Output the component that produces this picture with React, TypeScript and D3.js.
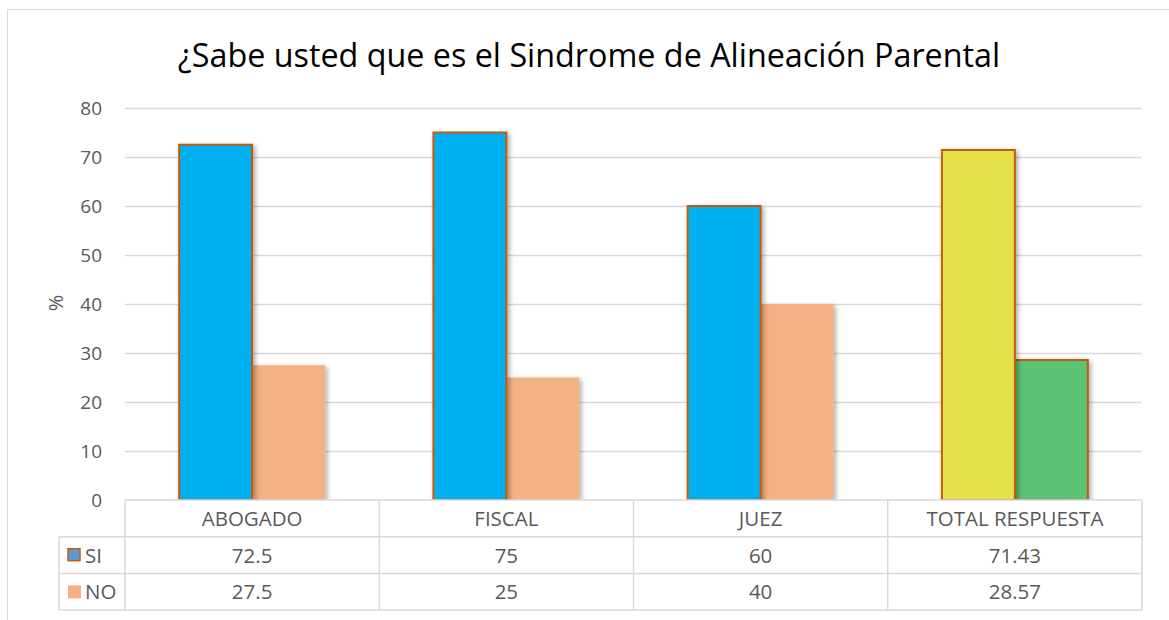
import React, { useEffect, useRef } from "react";
import * as d3 from "d3";

const categories = ["ABOGADO", "FISCAL", "JUEZ", "TOTAL RESPUESTA"];
const siValues = [72.5, 75, 60, 71.43];
const noValues = [27.5, 25, 40, 28.57];
const siLabels = ["72.5", "75", "60", "71.43"];
const noLabels = ["27.5", "25", "40", "28.57"];
const yTicks = [0, 10, 20, 30, 40, 50, 60, 70, 80];

const W = 1169;
const H = 620;
const plotLeft = 125;
const plotRight = 1142;
const plotTop = 108;
const plotBottom = 500;
const rowH = 36.7;
const legendLeft = 59;

const siFill = ["#00B0F0", "#00B0F0", "#00B0F0", "#E5E24A"];
const noFill = ["#F4B183", "#F4B183", "#F4B183", "#5BC274"];
const noStroke = [false, false, false, true];

export default function App() {
  const ref = useRef<SVGSVGElement>(null);

  useEffect(() => {
    const svg = d3.select(ref.current);
    svg.selectAll("*").remove();

    const defs = svg.append("defs");
    const f = defs.append("filter").attr("id", "sh").attr("x", "-30%").attr("y", "-10%").attr("width", "160%").attr("height", "120%");
    f.append("feDropShadow").attr("dx", 2).attr("dy", 2).attr("stdDeviation", 2.5).attr("flood-color", "#000").attr("flood-opacity", 0.35);

    svg.append("rect").attr("x", 0).attr("y", 0).attr("width", W).attr("height", H).attr("fill", "#fff");
    svg.append("path").attr("d", `M7.5,${H} V9.5 H${W}`).attr("fill", "none").attr("stroke", "#D9D9D9").attr("stroke-width", 1);

    const y = d3.scaleLinear().domain([0, 80]).range([plotBottom, plotTop]);
    const x = d3.scaleBand<string>().domain(categories).range([plotLeft, plotRight]).paddingInner(0).paddingOuter(0);
    const bw = x.bandwidth();
    const inner = d3.scaleBand<string>().domain(["SI", "NO"]).range([bw * 0.213, bw * 0.787]).paddingInner(0).paddingOuter(0);

    svg.append("text").attr("x", 589).attr("y", 67).attr("text-anchor", "middle")
      .attr("font-family", "'Open Sans', sans-serif").attr("font-size", 32.3).attr("fill", "#000")
      .text("¿Sabe usted que es el Sindrome de Alineación Parental");

    svg.append("g").selectAll("line").data(yTicks.filter(t => t > 0)).join("line")
      .attr("x1", plotLeft).attr("x2", plotRight)
      .attr("y1", d => Math.round(y(d)) + 0.5).attr("y2", d => Math.round(y(d)) + 0.5)
      .attr("stroke", "#D9D9D9").attr("stroke-width", 1.5);

    svg.append("g").selectAll("text").data(yTicks).join("text")
      .attr("x", 102).attr("y", d => y(d) + 7).attr("text-anchor", "end")
      .attr("font-family", "'Open Sans', sans-serif").attr("font-size", 19).attr("fill", "#595959")
      .text(d => String(d));

    svg.append("text").attr("transform", `translate(63,303) rotate(-90)`).attr("text-anchor", "middle")
      .attr("font-family", "'Open Sans', sans-serif").attr("font-size", 20).attr("fill", "#595959").text("%");

    const g = svg.append("g");
    categories.forEach((c, i) => {
      const x0 = x(c)!;
      const xs = x0 + inner("SI")!;
      const xn = x0 + inner("NO")!;
      const ib = inner.bandwidth();
      g.append("rect").attr("x", xn).attr("y", y(noValues[i])).attr("width", ib).attr("height", plotBottom - y(noValues[i]))
        .attr("fill", noFill[i]).attr("stroke", noStroke[i] ? "#C55A11" : "none").attr("stroke-width", 2).attr("filter", "url(#sh)");
      g.append("rect").attr("x", xs).attr("y", y(siValues[i])).attr("width", ib).attr("height", plotBottom - y(siValues[i]))
        .attr("fill", siFill[i]).attr("stroke", "#C55A11").attr("stroke-width", 2).attr("filter", "url(#sh)");
    });

    const t = svg.append("g");
    const gridC = "#D9D9D9";
    const r1 = plotBottom, r2 = plotBottom + rowH, r3 = plotBottom + 2 * rowH, r4 = plotBottom + 3 * rowH;
    t.append("rect").attr("x", plotLeft).attr("y", plotBottom).attr("width", plotRight - plotLeft).attr("height", 3 * rowH).attr("fill", "#fff");
    const hl = (x1: number, x2: number, yy: number) => t.append("line").attr("x1", x1).attr("x2", x2).attr("y1", yy).attr("y2", yy).attr("stroke", gridC).attr("stroke-width", 1.5);
    const vl = (xx: number, y1: number, y2: number) => t.append("line").attr("x1", xx).attr("x2", xx).attr("y1", y1).attr("y2", y2).attr("stroke", gridC).attr("stroke-width", 1.5);
    hl(plotLeft, plotRight, r1);
    hl(legendLeft, plotRight, r2);
    hl(legendLeft, plotRight, r3);
    hl(legendLeft, plotRight, r4);
    vl(legendLeft, r2, r4);
    categories.forEach(c => vl(x(c)!, r1, r4));
    vl(plotRight, r1, r4);

    const txt = (xx: number, yy: number, s: string, anchor = "middle") =>
      t.append("text").attr("x", xx).attr("y", yy).attr("text-anchor", anchor)
        .attr("font-family", "'Open Sans', sans-serif").attr("font-size", 20.5).attr("fill", "#595959").text(s);
    categories.forEach((c, i) => {
      const cx = x(c)! + bw / 2;
      txt(cx, r1 + 26, c);
      txt(cx, r2 + 26, siLabels[i]);
      txt(cx, r3 + 26, noLabels[i]);
    });
    t.append("rect").attr("x", 68).attr("y", r2 + 12).attr("width", 12).attr("height", 12).attr("fill", "#5B9BD5").attr("stroke", "#C55A11").attr("stroke-width", 1.5);
    txt(85, r2 + 26, "SI", "start");
    t.append("rect").attr("x", 68).attr("y", r3 + 12).attr("width", 13).attr("height", 13).attr("fill", "#F4B183");
    txt(85, r3 + 26, "NO", "start");
  }, []);

  return (
    <svg ref={ref} width={W} height={H} style={{ position: "absolute", left: 0, top: 0 }} />
  );
}
